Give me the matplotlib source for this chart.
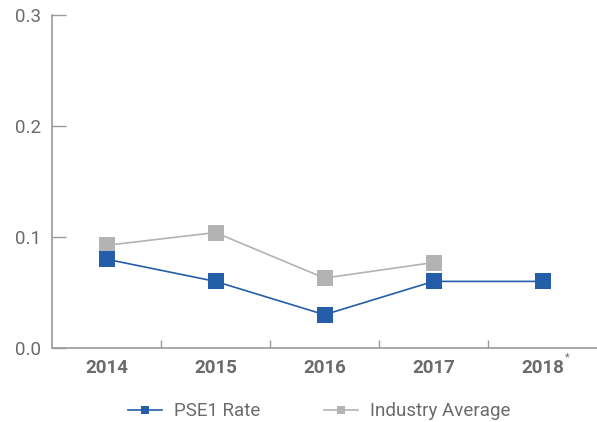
import matplotlib.pyplot as plt
from matplotlib.ticker import FixedLocator

years = ["2014", "2015", "2016", "2017", "2018"]
pse1_rate = [0.080, 0.060, 0.030, 0.060, 0.060]
industry_avg = [0.0925, 0.104, 0.063, 0.077]

BLUE = "#245ea8"
GREY = "#b3b3b3"
TEXT = "#6b6b6b"
AXIS = "#9a9a9a"

plt.rcParams["font.family"] = ["Roboto", "DejaVu Sans"]

fig = plt.figure(figsize=(5.97, 4.22), dpi=100)
ax = fig.add_axes([52 / 597, 1 - 348 / 422, 545 / 597, 333 / 422])

x = list(range(len(years)))
ax.plot(x, pse1_rate, color=BLUE, lw=1.2, marker="s", ms=11.5, mec=BLUE,
        mew=0, label="PSE1 Rate", zorder=3)
ax.plot(x[:len(industry_avg)], industry_avg, color=GREY, lw=1.2, marker="s",
        ms=11.5, mew=0, label="Industry Average", zorder=2)

ax.set_xlim(-0.5, 4.5)
ax.set_ylim(0, 0.3)
ax.set_yticks([0.0, 0.1, 0.2, 0.3])
ax.set_yticklabels(["0.0", "0.1", "0.2", "0.3"])
ax.set_xticks(x)
ax.set_xticklabels(years, fontweight="bold")
ax.xaxis.set_minor_locator(FixedLocator([0.5, 1.5, 2.5, 3.5]))

ax.tick_params(axis="y", direction="in", length=10, width=1, color=AXIS,
               labelsize=13.5, labelcolor=TEXT, pad=8)
ax.tick_params(axis="x", which="major", length=0, labelsize=13.5,
               labelcolor=TEXT, pad=8)
ax.tick_params(axis="x", which="minor", direction="in", length=6, width=1,
               color=AXIS)

for side in ["top", "right"]:
    ax.spines[side].set_visible(False)
for side in ["left", "bottom"]:
    ax.spines[side].set_color(AXIS)
    ax.spines[side].set_linewidth(1.2)

ax.annotate("*", xy=(4, 0), xycoords=("data", "axes fraction"),
            xytext=(18, -7), textcoords="offset points", fontsize=8,
            color=TEXT, ha="center", va="center")

leg = ax.legend(loc="center", bbox_to_anchor=(0.49, -0.19), ncol=2,
                frameon=False, fontsize=13.5, handlelength=1.8,
                handletextpad=0.65, columnspacing=3.4, markerscale=0.55)
for t in leg.get_texts():
    t.set_color(TEXT)

fig.savefig("out.png", dpi=100)
